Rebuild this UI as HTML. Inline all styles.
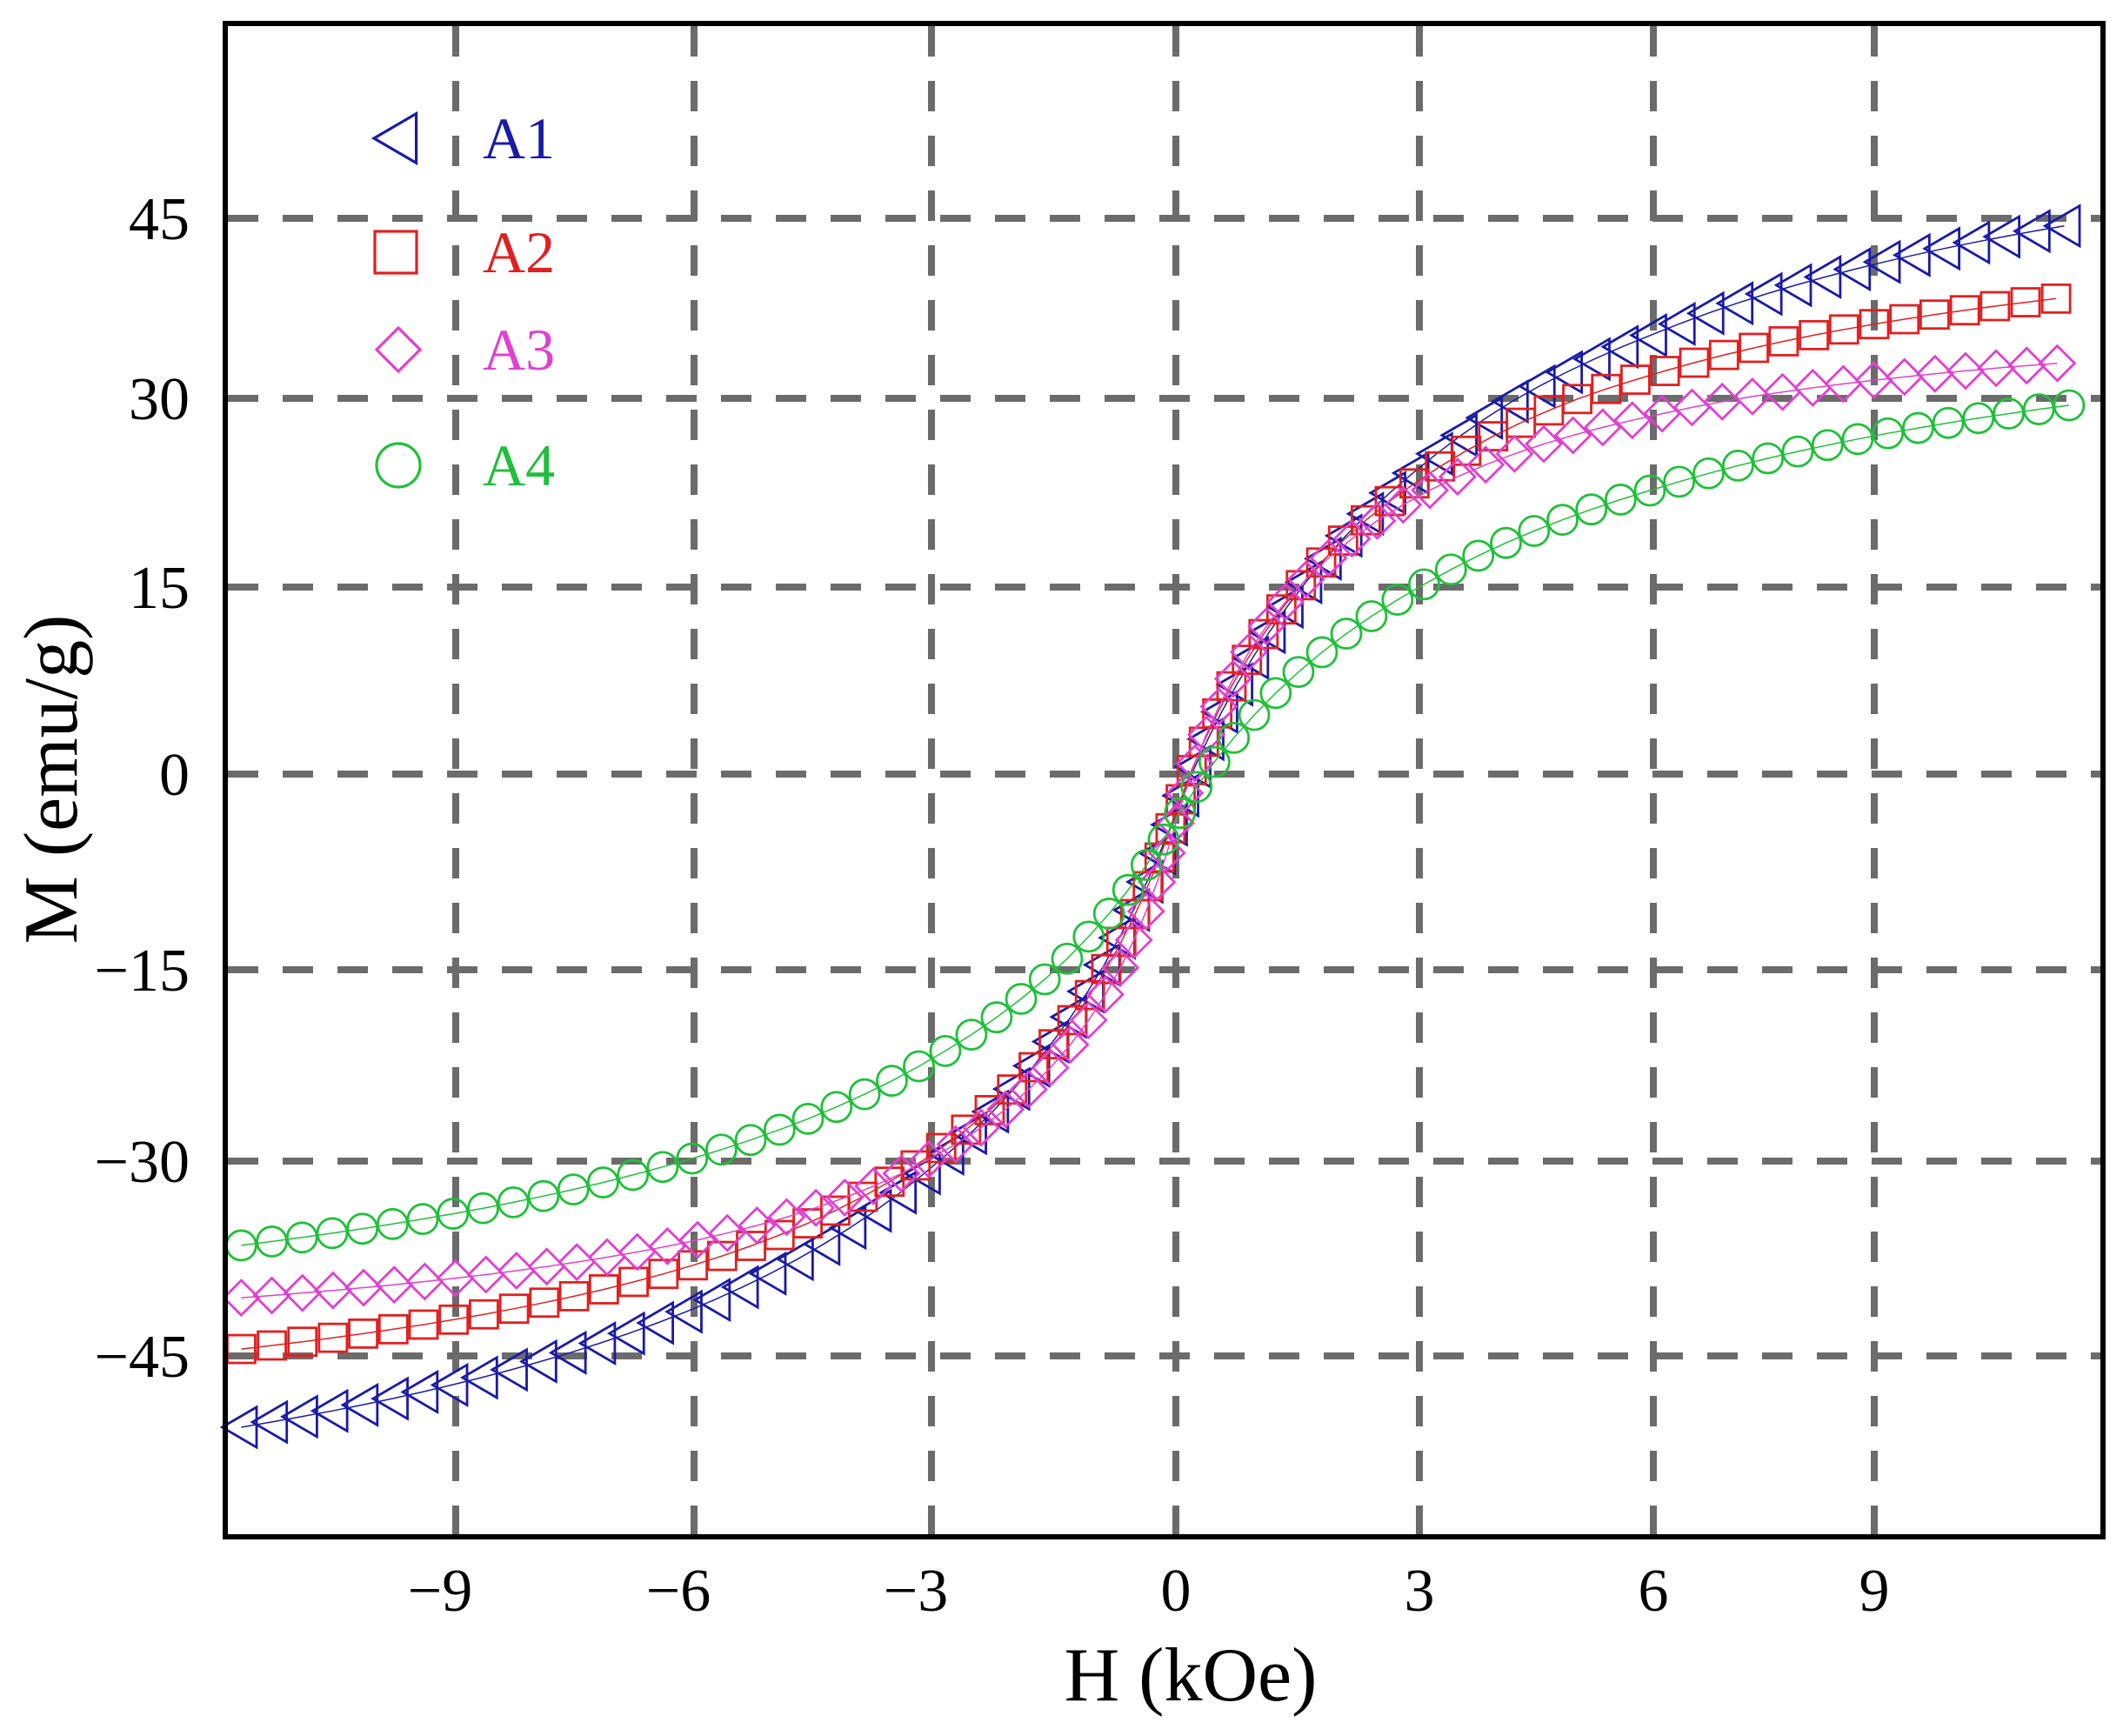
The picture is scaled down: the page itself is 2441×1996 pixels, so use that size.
<!DOCTYPE html>
<html><head><meta charset="utf-8">
<style>
html,body{margin:0;padding:0;background:#fff;}
svg{display:block;}
text{font-family:"Liberation Serif",serif;}
</style></head>
<body>
<svg id="s" width="2441" height="1996" viewBox="0 0 2441 1996" xmlns="http://www.w3.org/2000/svg">
<rect width="2441" height="1996" fill="#fff"/>
<g id="grid" stroke="#6b6b6b" stroke-width="8" stroke-dasharray="35 28" fill="none"></g>
<g id="data" fill="none" stroke-width="2.8"></g>
<rect x="259" y="27" width="2159" height="1740" fill="none" stroke="#000" stroke-width="6"/>
<g font-size="70" fill="#000" text-anchor="end" id="yl"></g>
<g font-size="70" fill="#000" text-anchor="middle" id="xl"></g>
<text x="1369" y="1955" font-size="88" text-anchor="middle">H (kOe)</text>
<text transform="translate(88,896) rotate(-90)" font-size="88" text-anchor="middle">M (emu/g)</text>
<g id="legend" fill="none" stroke-width="3.2"></g>
<g font-size="68">
<text x="555" y="182" fill="#1a1aa8">A1</text>
<text x="555" y="313" fill="#e02020">A2</text>
<text x="555" y="425" fill="#e040d0">A3</text>
<text x="555" y="558" fill="#1fc03a">A4</text>
</g>
</svg>
<script>
var NS="http://www.w3.org/2000/svg";
function el(p,t,a){var e=document.createElementNS(NS,t);for(var k in a)e.setAttribute(k,a[k]);p.appendChild(e);return e;}
var gx=[[-9,524],[-6,798],[-3,1071],[0,1352],[3,1632],[6,1901],[9,2155]];
var gy=[[45,251],[30,458],[15,675],[0,890],[-15,1115],[-30,1335],[-45,1559]];
function interp(v,g){
 var n=g.length;
 if(v<=g[0][0]){return g[0][1]+(v-g[0][0])*(g[1][1]-g[0][1])/(g[1][0]-g[0][0]);}
 if(v>=g[n-1][0]){return g[n-1][1]+(v-g[n-1][0])*(g[n-1][1]-g[n-2][1])/(g[n-1][0]-g[n-2][0]);}
 for(var i=0;i<n-1;i++){if(v>=g[i][0]&&v<=g[i+1][0])return g[i][1]+(v-g[i][0])*(g[i+1][1]-g[i][1])/(g[i+1][0]-g[i][0]);}
}
function X(h){return interp(h,gx);}
function Y(m){var g=gy.slice().reverse();return interp(m,g);}
var grid=document.getElementById('grid');
gx.forEach(function(p){el(grid,'line',{x1:p[1],y1:30,x2:p[1],y2:1764});});
gy.forEach(function(p){el(grid,'line',{x1:262,y1:p[1],x2:2415,y2:p[1]});});
var yl=document.getElementById('yl');
gy.forEach(function(p){var t=el(yl,'text',{x:218,y:p[1]+24});t.textContent=(p[0]<0?'\u2212'+(-p[0]):p[0]);});
var xl=document.getElementById('xl');
gx.forEach(function(p){var t=el(xl,'text',{x:p[1]-(p[0]<0?18:0),y:1852});t.textContent=(p[0]<0?'\u2212'+(-p[0]):p[0]);});
var series=[
 {c:'#1a1aa8',Ms:63.4,h:3.92,o:-3,m:'tri',sz:22},
 {c:'#e02020',Ms:51.5,h:2.83,o:-3,m:'sq',sz:16},
 {c:'#e040d0',Ms:42.9,h:1.95,o:-3.75,m:'dia',sz:20},
 {c:'#1fc03a',Ms:45.2,h:4.33,o:-3.5,m:'circ',sz:17}
];
function marker(g,type,x,y,s,c){
 if(type==='tri')el(g,'polygon',{points:(x-s)+','+y+' '+(x+s*0.8)+','+(y-s*1.05)+' '+(x+s*0.8)+','+(y+s*1.05),stroke:c});
 else if(type==='sq')el(g,'rect',{x:x-s,y:y-s,width:2*s,height:2*s,stroke:c});
 else if(type==='dia')el(g,'polygon',{points:x+','+(y-s)+' '+(x+s)+','+y+' '+x+','+(y+s)+' '+(x-s)+','+y,stroke:c});
 else el(g,'circle',{cx:x,cy:y,r:s,stroke:c});
}
var data=document.getElementById('data');
series.forEach(function(S){
 function f(H){return S.o+S.Ms*H/(Math.abs(H)+S.h);}
 var pts=[];
 var fine=[];for(var h=-11.7;h<=11.75;h+=0.005)fine.push([X(h),Y(f(h))]);
 var acc=0;pts.push(fine[0]);
 for(var i=1;i<fine.length;i++){var dx=fine[i][0]-fine[i-1][0],dy=fine[i][1]-fine[i-1][1];acc+=Math.sqrt(dx*dx+dy*dy);if(acc>=35){pts.push(fine[i]);acc=0;}}
 var d=pts.map(function(p,i){return (i?'L':'M')+p[0].toFixed(1)+','+p[1].toFixed(1);}).join('');
 el(data,'path',{d:d,stroke:S.c,'stroke-width':1.5});
 pts.forEach(function(p){marker(data,S.m,p[0],p[1],S.sz,S.c);});
});
var lg=document.getElementById('legend');
marker(lg,'tri',457,159,27,'#1a1aa8');
marker(lg,'sq',455,290,24,'#e02020');
marker(lg,'dia',458,402,25,'#e040d0');
marker(lg,'circ',458,535,25,'#1fc03a');
</script>
</body></html>
